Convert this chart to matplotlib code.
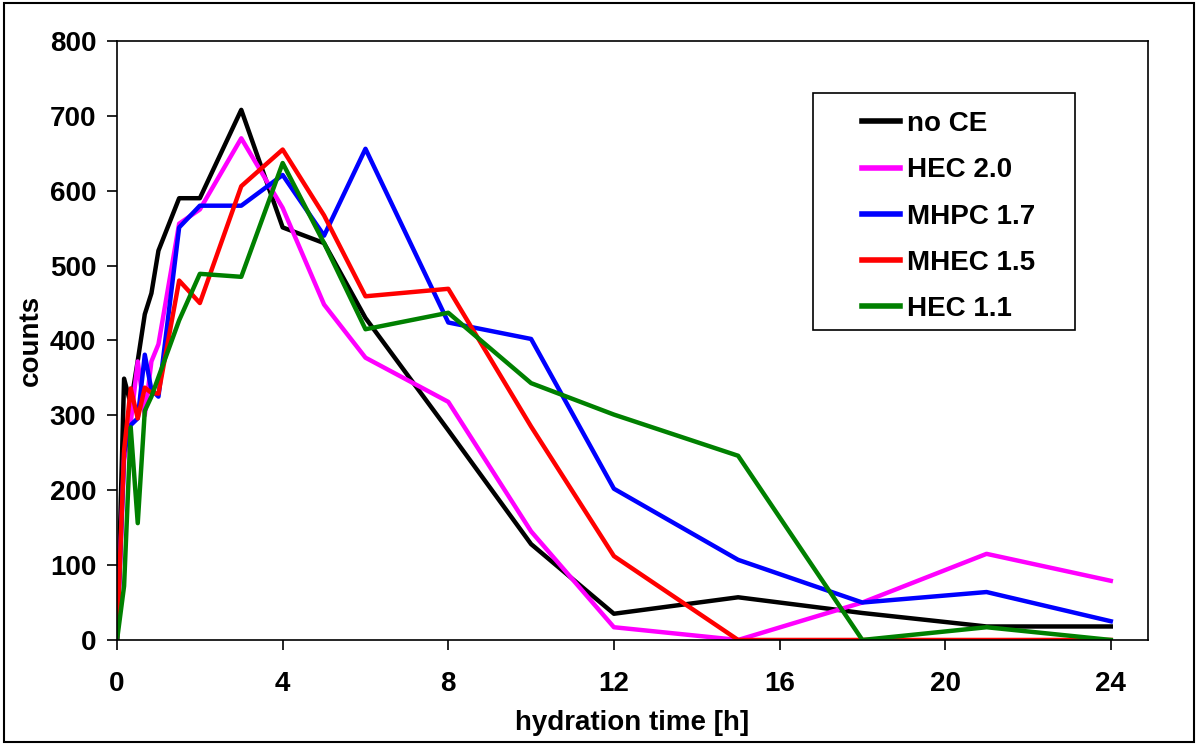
import numpy as np
import matplotlib
matplotlib.use("Agg")
import matplotlib.pyplot as plt
from matplotlib.patches import Rectangle

plt.rcParams['font.family'] = ['Liberation Sans', 'DejaVu Sans']
plt.rcParams['font.weight'] = 'bold'

# hydration time [h]
t = [0, 0.17, 0.33, 0.5, 0.67, 0.83, 1, 1.5, 2, 3, 4, 5, 6, 8, 10, 12, 15, 18, 21, 24]

no_ce   = [0, 349, 315, 373, 435, 463, 520, 590, 590, 708, 551, 530, 430, 280, 128, 35, 57, 36, 18, 18]
hec_20  = [0, 240, 290, 372, 300, 372, 395, 556, 575, 670, 577, 448, 377, 318, 145, 17, 0, 50, 115, 79]
mhpc_17 = [0, 250, 287, 296, 381, 334, 325, 551, 580, 580, 621, 540, 656, 424, 402, 202, 107, 50, 64, 25]
mhec_15 = [0, 253, 336, 296, 337, 330, 329, 480, 450, 606, 655, 567, 459, 469, 285, 112, 0, 0, 0, 0]
hec_11  = [0, 72, 284, 156, 306, 325, 351, 427, 489, 485, 637, 530, 415, 437, 343, 301, 246, 0, 17, 0]

series = [("no CE", no_ce, "black"),
          ("HEC 2.0", hec_20, "#ff00ff"),
          ("MHPC 1.7", mhpc_17, "#0000ff"),
          ("MHEC 1.5", mhec_15, "#ff0000"),
          ("HEC 1.1", hec_11, "#008000")]

fig = plt.figure(figsize=(11.98, 7.45), dpi=100)
ax = fig.add_axes([0.0977, 0.141, 0.8606, 0.804])

for name, y, c in series:
    ax.plot(t, y, color=c, lw=3.2, label=name)

ax.set_xlim(0, 24.9)
ax.set_ylim(0, 800)
ax.set_xticks(np.arange(0, 25, 4))
ax.set_yticks(np.arange(0, 801, 100))
ax.tick_params(direction='out', length=7, width=1.2, labelsize=20)
ax.tick_params(axis='x', pad=15)
ax.tick_params(axis='y', pad=8)
for s in ax.spines.values():
    s.set_linewidth(1.2)

ax.set_xlabel("hydration time [h]", fontsize=20, fontweight='bold', labelpad=10)
ax.set_ylabel("counts", fontsize=20, fontweight='bold', labelpad=4)

# legend box drawn by hand, entries without frame
ax.add_patch(Rectangle((0.675, 0.5175), 0.254, 0.3955, transform=ax.transAxes,
                       fill=True, facecolor='white', edgecolor='black', lw=1.2, zorder=5))
leg = ax.legend(loc='upper left', bbox_to_anchor=(0.7226, 0.883), fontsize=20,
                frameon=False, handlelength=1.36, handletextpad=0.25,
                labelspacing=0.73, borderpad=0, borderaxespad=0)
leg.set_zorder(6)
for txt in leg.get_texts():
    txt.set_fontweight('bold')
for h in leg.get_lines():
    h.set_linewidth(4)

fig.patches.append(Rectangle((0.003, 0.004), 0.994, 0.992, transform=fig.transFigure,
                             fill=False, edgecolor='black', lw=1.5))

fig.savefig("out.png", dpi=100)
